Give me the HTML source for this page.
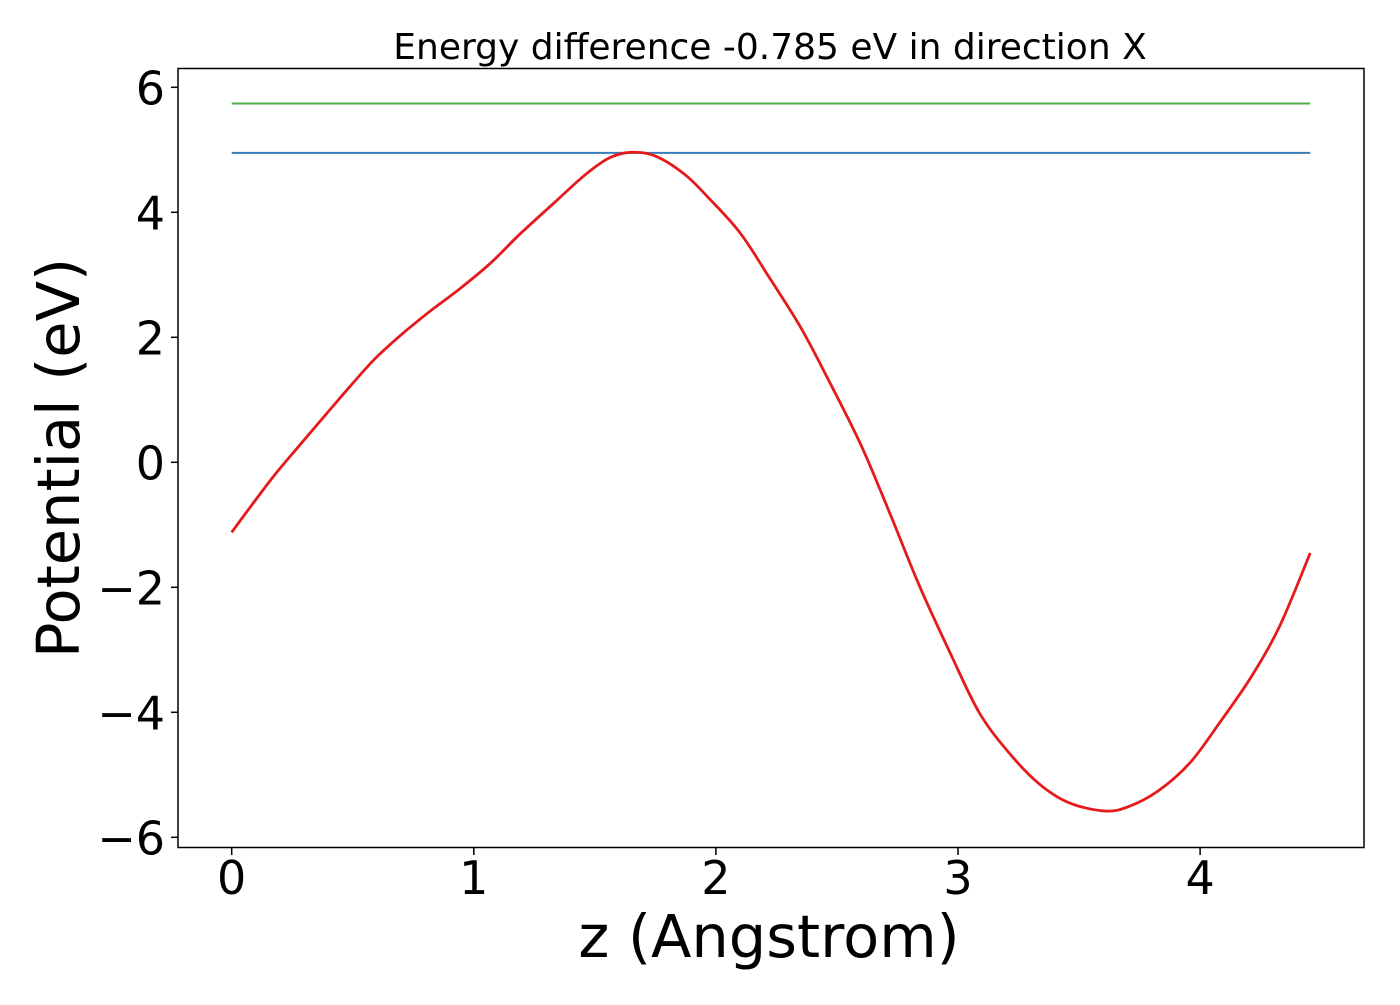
<!DOCTYPE html>
<html><head><meta charset="utf-8"><style>
body{margin:0;background:#fff}
svg text{font-family:"DejaVu Sans","Liberation Sans",sans-serif;fill:#000}
</style></head><body>
<svg id="chart" width="1400" height="1000" xmlns="http://www.w3.org/2000/svg">
<rect width="1400" height="1000" fill="#fff"/>
<g id="marks"></g>
<rect x="178" y="68.5" width="1186" height="779" fill="none" stroke="#000" stroke-width="1.5"/>
<g id="ticks"></g>
<text x="770" y="59" font-size="36" text-anchor="middle">Energy difference -0.785 eV in direction X</text>
<text x="769" y="957" font-size="59" text-anchor="middle">z (Angstrom)</text>
<text x="0" y="0" font-size="59" text-anchor="middle" transform="translate(79,458) rotate(-90)">Potential (eV)</text>
</svg>
<script>
const zVals=[0,0.076,0.18,0.28,0.39,0.49,0.59,0.70,0.82,0.94,1.07,1.19,1.34,1.46,1.56,1.65,1.75,1.87,1.97,2.10,2.22,2.35,2.47,2.60,2.72,2.84,2.97,3.09,3.22,3.34,3.46,3.61,3.71,3.83,3.96,4.08,4.21,4.33,4.455];
const potVals=[-1.12,-0.72,-0.19,0.27,0.77,1.22,1.65,2.04,2.42,2.77,3.19,3.65,4.18,4.60,4.87,4.96,4.90,4.61,4.23,3.67,2.96,2.16,1.28,0.27,-0.83,-1.97,-3.07,-4.02,-4.69,-5.16,-5.45,-5.58,-5.50,-5.25,-4.80,-4.17,-3.44,-2.61,-1.45];
const levelVals=[4.95,5.74];
const levelColors=["#377eb8","#4daf4a"];
const xTicks=[0,1,2,3,4];
const yTicks=[6,4,2,0,-2,-4,-6];
const xRange=[0,4.455];
const X=v=>231.7+v*242.1;
const Y=v=>462.3-v*62.5;
const NS="http://www.w3.org/2000/svg";
const marks=document.getElementById('marks'),ticks=document.getElementById('ticks');
function mk(tag,attrs,parent){const e=document.createElementNS(NS,tag);for(const k in attrs)e.setAttribute(k,attrs[k]);parent.appendChild(e);return e;}
levelVals.forEach((v,i)=>{
 const l=mk('line',{x1:X(xRange[0]),x2:X(xRange[1]),y1:Y(v),y2:Y(v),stroke:levelColors[i],'stroke-width':2},marks);
 
 
});
const pts=zVals.map((z,i)=>[X(z),Y(potVals[i])]);
let d='M'+pts[0][0]+','+pts[0][1];
for(let i=0;i<pts.length-1;i++){
 const p0=pts[Math.max(0,i-1)],p1=pts[i],p2=pts[i+1],p3=pts[Math.min(pts.length-1,i+2)];
 const c1=[p1[0]+(p2[0]-p0[0])/6,p1[1]+(p2[1]-p0[1])/6];
 const c2=[p2[0]-(p3[0]-p1[0])/6,p2[1]-(p3[1]-p1[1])/6];
 d+=' C'+c1[0]+','+c1[1]+' '+c2[0]+','+c2[1]+' '+p2[0]+','+p2[1];
}
const p=mk('path',{d:d,fill:'none',stroke:'#e41a1c','stroke-width':2.8,'stroke-linejoin':'round'},marks);


xTicks.forEach(t=>{
 const l=mk('line',{x1:X(t),x2:X(t),y1:848,y2:855,stroke:'#000','stroke-width':1.5},ticks);
 
 
 const tx=mk('text',{x:X(t),y:894,'font-size':46,'text-anchor':'middle'},ticks);
 tx.textContent=String(t);
 
 
});
yTicks.forEach(t=>{
 const l=mk('line',{x1:171,x2:178,y1:Y(t),y2:Y(t),stroke:'#000','stroke-width':1.5},ticks);
 
 
 const tx=mk('text',{x:165,y:Y(t)+17,'font-size':46,'text-anchor':'end'},ticks);
 tx.textContent=t<0?'\u2212'+Math.abs(t):String(t);
 
 
});
</script>
</body></html>
